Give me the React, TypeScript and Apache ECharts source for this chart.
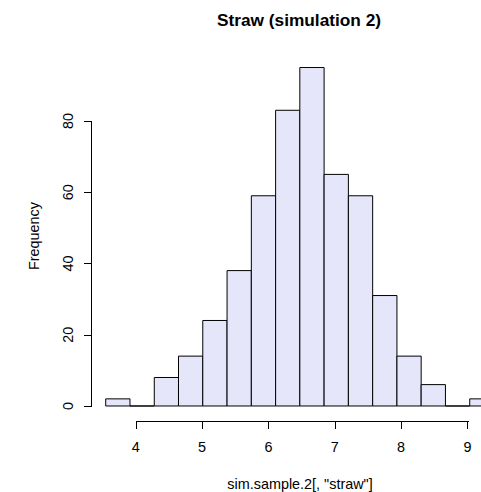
import React, { useEffect, useRef } from "react";
import * as echarts from "echarts";

// Histogram bin edges (x units) and counts per bin
const binEdges = [3.548, 3.914, 4.28, 4.645, 5.011, 5.377, 5.743, 6.109, 6.474, 6.84, 7.206, 7.572, 7.938, 8.303, 8.669, 9.035, 9.401];
const counts = [2, 0, 8, 14, 24, 38, 59, 83, 95, 65, 59, 31, 14, 6, 0, 2];

// Axis ticks
const xTicks = [4, 5, 6, 7, 8, 9];
const yTicks = [0, 20, 40, 60, 80];

// Coordinate extents of the whole canvas (grid covers the full chart)
const xMin = 1.9545;
const xMax = 9.205;
const yMin = -24.14;
const yMax = 113.95;
// R plot-region edges where the axes are drawn
const plotXMin = 3.326;
const plotYMin = -4.2;

const chartTitle = "Straw (simulation 2)";
const xTitle = 'sim.sample.2[, "straw"]';
const yTitle = "Frequency";

const FONT = '"Liberation Sans", Arial, Helvetica, sans-serif';
const TICK_LEN = 7;

export default function App() {
  const ref = useRef<HTMLDivElement>(null);

  useEffect(() => {
    if (!ref.current) return;
    const chart = echarts.init(ref.current, null, { renderer: "svg" });
    const barData = counts.map((c, i) => [binEdges[i], binEdges[i + 1], c]);

    // crisp 1px filled rects used as lines
    const hLine = (x1: number, x2: number, y: number) => ({
      type: "rect",
      shape: { x: Math.round(Math.min(x1, x2)), y: Math.round(y), width: Math.round(Math.abs(x2 - x1)) + 1, height: 1 },
      style: { fill: "#000" },
    });
    const vLine = (x: number, y1: number, y2: number) => ({
      type: "rect",
      shape: { x: Math.round(x), y: Math.round(Math.min(y1, y2)), width: 1, height: Math.round(Math.abs(y2 - y1)) + 1 },
      style: { fill: "#000" },
    });
    const label = (text: string, x: number, y: number, rotation = 0) => ({
      type: "text",
      x,
      y,
      rotation,
      style: {
        text,
        font: `14.4px ${FONT}`,
        fill: "#000",
        textAlign: "center",
        textVerticalAlign: "middle",
      },
    });

    const option: any = {
      animation: false,
      backgroundColor: "#ffffff",
      grid: { left: 0, right: 0, top: 0, bottom: 0, containLabel: false },
      xAxis: { type: "value", min: xMin, max: xMax, show: false },
      yAxis: { type: "value", min: yMin, max: yMax, show: false },
      graphic: [
        {
          type: "text",
          x: 299,
          y: 20,
          style: {
            text: chartTitle,
            font: `bold 17.28px ${FONT}`,
            fill: "#000",
            textAlign: "center",
            textVerticalAlign: "middle",
          },
        },
        label(xTitle, 300, 484),
        label(yTitle, 34, 236, Math.PI / 2),
      ],
      series: [
        {
          type: "custom",
          name: "hist",
          data: barData,
          encode: { x: [0, 1], y: 2 },
          clip: false,
          renderItem: (params: any, api: any) => {
            const p0 = api.coord([api.value(0), 0]);
            const p1 = api.coord([api.value(1), api.value(2)]);
            return {
              type: "rect",
              shape: {
                x: p0[0],
                y: p1[1],
                width: p1[0] - p0[0],
                height: p0[1] - p1[1],
              },
              style: { fill: "#E6E6FA", stroke: "#000", lineWidth: 1 },
            };
          },
        },
        {
          // R-style axes: line from first to last tick, outward ticks, tick labels
          type: "custom",
          name: "axes",
          data: [[plotXMin, plotYMin]],
          encode: { x: 0, y: 1 },
          clip: false,
          silent: true,
          renderItem: (params: any, api: any) => {
            const children: any[] = [];
            const xa = api.coord([xTicks[0], plotYMin]);
            const xb = api.coord([xTicks[xTicks.length - 1], plotYMin]);
            children.push(hLine(xa[0], xb[0], xa[1]));
            xTicks.forEach((t) => {
              const p = api.coord([t, plotYMin]);
              children.push(vLine(p[0], p[1], p[1] + TICK_LEN));
              children.push(label(String(t), p[0], p[1] + 26));
            });
            const ya = api.coord([plotXMin, yTicks[0]]);
            const yb = api.coord([plotXMin, yTicks[yTicks.length - 1]]);
            children.push(vLine(ya[0], ya[1], yb[1]));
            yTicks.forEach((t) => {
              const p = api.coord([plotXMin, t]);
              children.push(hLine(p[0] - TICK_LEN, p[0], p[1]));
              children.push(label(String(t), p[0] - 23, p[1], Math.PI / 2));
            });
            return { type: "group", children };
          },
        },
      ],
    };
    chart.setOption(option);
    return () => chart.dispose();
  }, []);

  return (
    <div
      ref={ref}
      style={{ position: "fixed", left: 0, top: 0, width: 481, height: 492 }}
    />
  );
}
